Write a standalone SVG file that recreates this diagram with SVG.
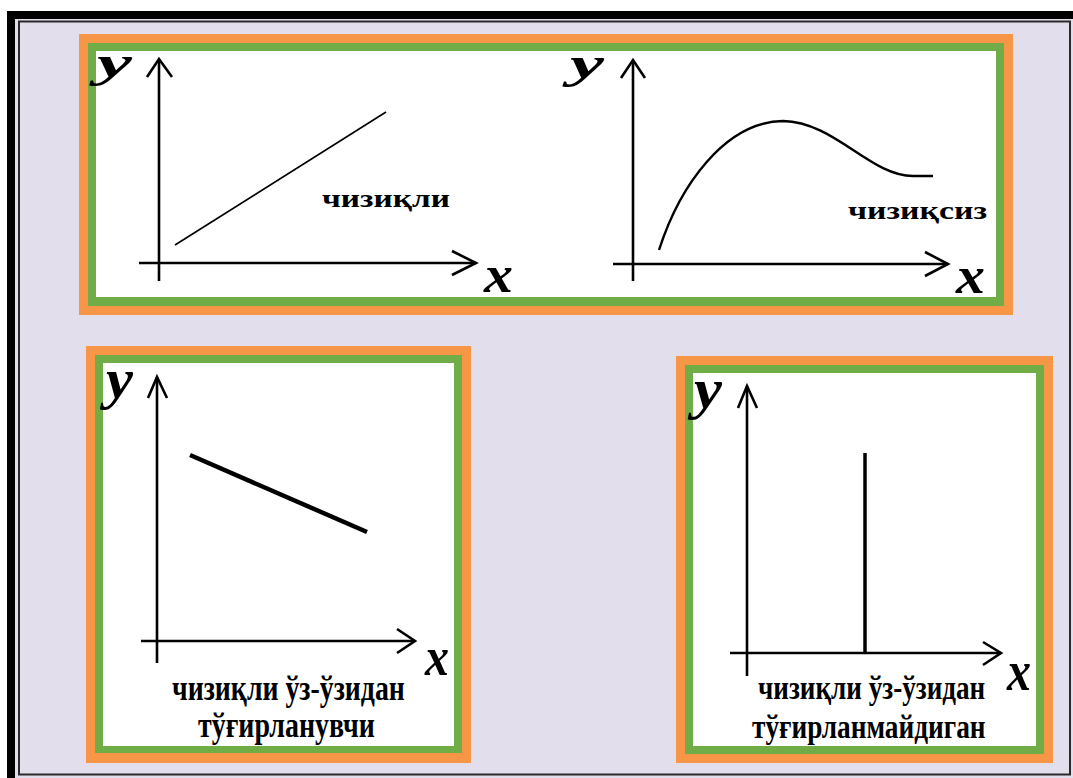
<svg xmlns="http://www.w3.org/2000/svg" width="1073" height="778" viewBox="0 0 1073 778">
<style>
.axis{fill:none;stroke:#000;stroke-width:2.6;stroke-linecap:butt;stroke-linejoin:miter}
.lbl{font-family:"Liberation Serif","Times New Roman",serif;font-weight:bold;font-style:italic;fill:#000}
.cap{font-family:"Liberation Serif","Times New Roman",serif;font-weight:bold;fill:#000}
.orange{fill:#F79646}
.green{fill:#70AD47}
.white{fill:#FFFFFF}
</style>
<rect x="0" y="0" width="1073" height="778" fill="#FFFFFF"/>
<rect x="7" y="11" width="1066" height="767" fill="#E3DEEB"/>
<!-- outer frame -->
<g id="frame">
<rect x="7" y="11" width="1066" height="8" fill="#000"/>
<rect x="7" y="11" width="8" height="767" fill="#000"/>
<rect x="19" y="21.5" width="1051" height="753" fill="none" stroke="#2a2a2a" stroke-width="2"/>
</g>

<!-- Panel 1 -->
<g id="panel1">
<rect class="orange" x="79" y="34" width="934" height="281"/>
<rect class="green" x="88" y="43" width="916" height="263"/>
<rect class="white" x="96" y="51" width="900" height="246"/>
</g>
<g id="graph-linear">
<line class="axis" x1="159" y1="59" x2="159" y2="281"/>
<polyline class="axis" points="147,77 159,59 172,77"/>
<line class="axis" x1="139" y1="263" x2="476" y2="263"/>
<polyline class="axis" points="452,251 476,263 452,275"/>
<line x1="175" y1="245" x2="386" y2="112" stroke="#000" stroke-width="1.6"/>
<text class="lbl" x="97" y="77" font-size="44" textLength="35" lengthAdjust="spacingAndGlyphs">y</text>
<text class="lbl" x="484" y="292" font-size="52" textLength="29" lengthAdjust="spacingAndGlyphs">x</text>
<text class="cap" x="322" y="207" font-size="25" textLength="128" lengthAdjust="spacingAndGlyphs">чизиқли</text>
</g>
<g id="graph-nonlinear">
<line class="axis" x1="633" y1="60" x2="633" y2="281"/>
<polyline class="axis" points="621,78 633,60 645,78"/>
<line class="axis" x1="613" y1="264" x2="948" y2="264"/>
<polyline class="axis" points="925,252 948,264 925,276"/>
<path d="M659,250 C680,185 725,122 783,121 C835,122 870,176 913,176 L933,176" fill="none" stroke="#000" stroke-width="2.4"/>
<text class="lbl" x="570" y="78" font-size="44" textLength="34" lengthAdjust="spacingAndGlyphs">y</text>
<text class="lbl" x="956" y="293" font-size="52" textLength="29" lengthAdjust="spacingAndGlyphs">x</text>
<text class="cap" x="848" y="219" font-size="25" textLength="139" lengthAdjust="spacingAndGlyphs">чизиқсиз</text>
</g>

<!-- Panel 2 -->
<g id="panel2">
<rect class="orange" x="86" y="346" width="385" height="417"/>
<rect class="green" x="95" y="355" width="367" height="398"/>
<rect class="white" x="103" y="363" width="351" height="383"/>
<line class="axis" x1="157" y1="377" x2="157" y2="663"/>
<polyline class="axis" points="148,398 157,377 167,398"/>
<line class="axis" x1="141" y1="641" x2="415" y2="641"/>
<polyline class="axis" points="397,629 415,641 397,653"/>
<line x1="190" y1="455" x2="367" y2="532" stroke="#000" stroke-width="4.5"/>
<text class="lbl" x="106" y="398" font-size="56" textLength="27" lengthAdjust="spacingAndGlyphs">y</text>
<text class="lbl" x="425" y="675" font-size="54" textLength="24" lengthAdjust="spacingAndGlyphs">x</text>
<text class="cap" transform="translate(172,700) scale(0.8,1)" x="0" y="0" font-size="35" textLength="291" lengthAdjust="spacingAndGlyphs">чизиқли ўз-ўзидан</text>
<text class="cap" transform="translate(198,737) scale(0.8,1)" x="0" y="0" font-size="35" textLength="221" lengthAdjust="spacingAndGlyphs">тўғирланувчи</text>
</g>

<!-- Panel 3 -->
<g id="panel3">
<rect class="orange" x="676" y="356" width="377" height="407"/>
<rect class="green" x="685" y="365" width="359" height="389"/>
<rect class="white" x="693" y="373" width="343" height="373"/>
<line class="axis" x1="747" y1="386" x2="747" y2="676"/>
<polyline class="axis" points="738,408 747,386 757,408"/>
<line class="axis" x1="730" y1="653" x2="1001" y2="653"/>
<polyline class="axis" points="983,642 1001,653 983,665"/>
<line x1="865" y1="453" x2="865" y2="653" stroke="#000" stroke-width="3.5"/>
<text class="lbl" x="694" y="408" font-size="58" textLength="28" lengthAdjust="spacingAndGlyphs">y</text>
<text class="lbl" x="1007" y="690" font-size="56" textLength="24" lengthAdjust="spacingAndGlyphs">x</text>
<text class="cap" transform="translate(758,699) scale(0.8,1)" x="0" y="0" font-size="34" textLength="284" lengthAdjust="spacingAndGlyphs">чизиқли ўз-ўзидан</text>
<text class="cap" transform="translate(752,738) scale(0.8,1)" x="0" y="0" font-size="34" textLength="292" lengthAdjust="spacingAndGlyphs">тўғирланмайдиган</text>
</g>
</svg>
